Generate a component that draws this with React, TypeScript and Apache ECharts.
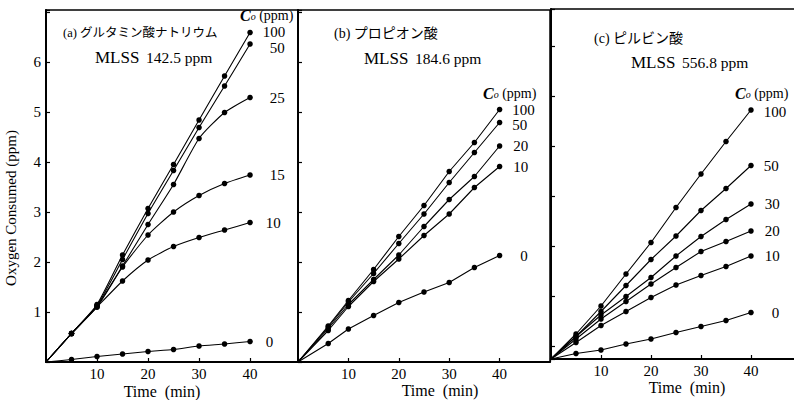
import React, { useEffect, useRef } from "react";
import * as echarts from "echarts";

// ---------- data ----------
const TIME_A = [5, 10, 15, 20, 25, 30, 35, 40];
const TIME_B = [6, 10, 15, 20, 25, 30, 35, 40];
const TIME_C = [5, 10, 15, 20, 25, 30, 35, 40];

const A_NAMES = ["100", "50", "25", "15", "10", "0"];
const A_100 = [0.57, 1.15, 2.14, 3.07, 3.95, 4.84, 5.72, 6.59];
const A_50 = [0.57, 1.13, 2.05, 2.97, 3.83, 4.69, 5.52, 6.36];
const A_25 = [0.57, 1.12, 1.92, 2.75, 3.55, 4.47, 4.99, 5.29];
const A_15 = [0.57, 1.1, 1.9, 2.54, 3.0, 3.33, 3.57, 3.74];
const A_10 = [0.57, 1.1, 1.62, 2.04, 2.31, 2.49, 2.64, 2.79];
const A_0 = [0.05, 0.11, 0.16, 0.21, 0.25, 0.32, 0.36, 0.41];

const B_NAMES = ["100", "50", "20", "10", "0"];
const B_100 = [0.72, 1.23, 1.85, 2.51, 3.13, 3.81, 4.39, 5.05];
const B_50 = [0.7, 1.2, 1.77, 2.37, 2.96, 3.59, 4.19, 4.79];
const B_20 = [0.67, 1.15, 1.65, 2.14, 2.71, 3.25, 3.71, 4.32];
const B_10 = [0.63, 1.11, 1.61, 2.06, 2.53, 2.96, 3.49, 3.91];
const B_0 = [0.37, 0.66, 0.93, 1.19, 1.4, 1.59, 1.89, 2.13];

const C_NAMES = ["100", "50", "30", "20", "10", "0"];
const C_100 = [0.5, 1.06, 1.7, 2.33, 3.03, 3.7, 4.35, 4.98];
const C_50 = [0.45, 0.95, 1.47, 1.99, 2.46, 2.97, 3.41, 3.87];
const C_30 = [0.45, 0.88, 1.25, 1.63, 2.06, 2.45, 2.79, 3.1];
const C_20 = [0.4, 0.8, 1.15, 1.5, 1.83, 2.15, 2.35, 2.56];
const C_10 = [0.33, 0.67, 0.95, 1.23, 1.48, 1.67, 1.85, 2.06];
const C_0 = [0.11, 0.18, 0.3, 0.4, 0.53, 0.65, 0.77, 0.93];

const X_TICKS = [10, 20, 30, 40];
const Y_TICKS = [1, 2, 3, 4, 5, 6];

const TITLE_A = "(a) グルタミン酸ナトリウム";
const TITLE_B = "(b) プロピオン酸";
const TITLE_C = "(c) ピルビン酸";
const MLSS_A = "142.5 ppm";
const MLSS_B = "184.6 ppm";
const MLSS_C = "556.8 ppm";

// ---------- style helpers (label placement, not data) ----------
const A_LABEL = [
  [10, -1],
  [17, 4],
  [17, 0],
  [17, 0],
  [13, 0],
  [13, 0],
];
const B_LABEL = [
  [10, 0],
  [10, 2],
  [11, 0],
  [11, 0],
  [18, 0],
];
const C_LABEL = [
  [10, 2],
  [10, 0],
  [11, 0],
  [11, 0],
  [11, 0],
  [18, 0],
];

const SERIF = "'Liberation Serif', 'DejaVu Serif', 'Noto Sans CJK JP', serif";

function mkSeries(
  name: string,
  xs: number[],
  ys: number[],
  axis: number,
  yAxis: number,
  smooth: number | boolean,
  lab: number[]
) {
  const data: any[] = [{ value: [0, 0], symbolSize: 0 }];
  xs.forEach((x, i) => {
    const item: any = { value: [x, ys[i]] };
    if (i === xs.length - 1) {
      item.label = {
        show: true,
        position: "right",
        distance: lab[0],
        offset: [0, lab[1]],
        formatter: name,
        color: "#000",
        fontSize: 15,
        lineHeight: 12,
        fontFamily: SERIF,
      };
    }
    data.push(item);
  });
  return {
    type: "line",
    name,
    xAxisIndex: axis,
    yAxisIndex: yAxis,
    data,
    smooth,
    symbol: "circle",
    symbolSize: 5.5,
    lineStyle: { color: "#000", width: 1.1 },
    itemStyle: { color: "#000" },
    label: { show: false },
    silent: true,
  };
}

function xAxis(grid: number, max: number, pad: number[], gap: number, margin: number) {
  return {
    type: "value",
    gridIndex: grid,
    min: 0,
    max,
    interval: 10,
    axisLine: { show: true, lineStyle: { color: "#000", width: 2 } },
    axisTick: { show: true, inside: true, length: 4, lineStyle: { color: "#000", width: 1.2 } },
    splitLine: { show: false },
    axisLabel: {
      margin,
      color: "#000",
      fontSize: 15,
      fontFamily: SERIF,
      formatter: (v: number) => (X_TICKS.indexOf(v) >= 0 ? String(v) : ""),
    },
    name: "Time  (min)",
    nameLocation: "middle",
    nameGap: gap,
    nameMoveOverlap: false,
    nameTextStyle: { color: "#000", fontSize: 16, lineHeight: 16, fontFamily: SERIF, padding: pad },
  };
}

function yAxis(grid: number, labels: boolean, name?: string) {
  return {
    type: "value",
    gridIndex: grid,
    min: 0,
    max: 7.04,
    interval: 1,
    axisLine: { show: true, lineStyle: { color: "#000", width: 2 } },
    axisTick: { show: true, inside: true, length: 4, lineStyle: { color: "#000", width: 1.2 } },
    splitLine: { show: false },
    axisLabel: {
      show: labels,
      margin: 5,
      color: "#000",
      fontSize: 15,
      fontFamily: SERIF,
      formatter: (v: number) => (Y_TICKS.indexOf(v) >= 0 ? String(v) : ""),
    },
    name: name || "",
    nameLocation: "middle",
    nameRotate: 90,
    nameGap: 28,
    nameMoveOverlap: false,
    nameTextStyle: { color: "#000", fontSize: 15, fontFamily: SERIF, padding: [0, 44, 0, 0] },
  };
}

function coText(x: number, y: number) {
  return {
    type: "text",
    x,
    y,
    style: {
      text: "{c|C}{o|o}{p| (ppm)}",
      verticalAlign: "middle",
      rich: {
        c: { fontSize: 16, lineHeight: 13, fontStyle: "italic", fontWeight: "bold", fontFamily: SERIF, fill: "#000" },
        o: { fontSize: 10, lineHeight: 13, fontStyle: "italic", fontFamily: SERIF, fill: "#000", verticalAlign: "bottom" },
        p: { fontSize: 14, lineHeight: 13, fontFamily: SERIF, fill: "#000" },
      },
    },
  };
}

function titleText(x: number, y: number, t: string, size: number) {
  return {
    type: "text",
    x,
    y,
    style: {
      text: t,
      verticalAlign: "middle",
      fontSize: size,
      fontFamily: "'Liberation Serif', 'Noto Sans CJK JP', serif",
      fill: "#000",
    },
  };
}

function mlssText(x: number, y: number, v: string) {
  return {
    type: "text",
    x,
    y,
    style: {
      text: "{m|MLSS}  {v|" + v + "}",
      verticalAlign: "middle",
      rich: {
        m: { fontSize: 17, fontFamily: SERIF, fill: "#000" },
        v: { fontSize: 15.5, fontFamily: SERIF, fill: "#000" },
      },
    },
  };
}

export default function App() {
  const ref = useRef<HTMLDivElement>(null);
  useEffect(() => {
    if (!ref.current) return;
    const chart = echarts.init(ref.current, undefined, { renderer: "svg" });
    const seriesA = [A_100, A_50, A_25, A_15, A_10, A_0].map((ys, i) =>
      mkSeries(A_NAMES[i], TIME_A, ys, 0, 0, 0.2, A_LABEL[i])
    );
    const seriesB = [B_100, B_50, B_20, B_10, B_0].map((ys, i) =>
      mkSeries(B_NAMES[i], TIME_B, ys, 1, 1, false, B_LABEL[i])
    );
    const seriesC = [C_100, C_50, C_30, C_20, C_10, C_0].map((ys, i) =>
      mkSeries(C_NAMES[i], TIME_C, ys, 2, 2, false, C_LABEL[i])
    );
    const border = {
      show: true,
      borderColor: "#000",
      borderWidth: 1.5,
      backgroundColor: "transparent",
      containLabel: false,
      outerBoundsMode: "none",
    };
    chart.setOption({
      animation: false,
      backgroundColor: "#fff",
      grid: [
        { left: 46, top: 10, width: 252, height: 352, ...border },
        { left: 298, top: 10, width: 252, height: 352, ...border },
        { left: 551, top: 9, width: 244, height: 350, ...border },
      ],
      xAxis: [
        xAxis(0, 49.4, [0, 20, 0, 0], 21, 4),
        xAxis(1, 50, [0, 0, 0, 32], 20, 4),
        xAxis(2, 48.8, [0, 0, 0, 28], 20, 4),
      ],
      yAxis: [
        yAxis(0, true, "Oxygen Consumed (ppm)"),
        yAxis(1, false),
        {
          type: "value",
          gridIndex: 2,
          min: 0,
          max: 7,
          interval: 1,
          axisLine: { show: true, lineStyle: { color: "#000", width: 2 } },
          axisTick: { show: false },
          axisLabel: { show: false },
          splitLine: { show: false },
        },
        {
          type: "value",
          gridIndex: 2,
          min: -0.26,
          max: 6.74,
          splitNumber: 7,
          position: "left",
          axisLine: { show: false },
          axisTick: { show: true, inside: true, length: 4, lineStyle: { color: "#000", width: 1.2 } },
          axisLabel: { show: false },
          splitLine: { show: false },
        },
      ],
      series: [...seriesA, ...seriesB, ...seriesC],
      graphic: [
        titleText(63, 33, TITLE_A, 12.5),
        mlssText(95, 57, MLSS_A),
        coText(240, 15),
        titleText(334, 33, TITLE_B, 14),
        mlssText(364, 58, MLSS_B),
        coText(483, 93),
        titleText(594, 38, TITLE_C, 14),
        mlssText(631, 62, MLSS_C),
        coText(735, 93),
      ],
    });
    return () => chart.dispose();
  }, []);
  return (
    <div
      ref={ref}
      style={{ position: "fixed", left: 0, top: 0, width: 794, height: 400, background: "#fff" }}
    />
  );
}
